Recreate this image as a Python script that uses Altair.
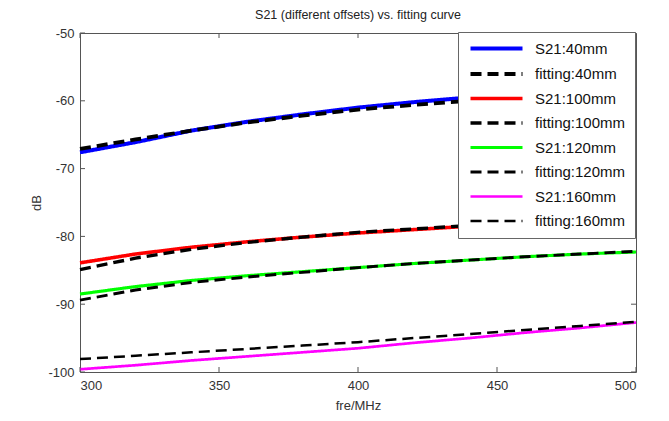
import altair as alt
import pandas as pd

freq = [300, 320, 340, 360, 380, 400, 420, 440, 460, 480, 500]

s21_40 = [-67.6, -66.1, -64.4, -63.1, -62.0, -61.0, -60.2, -59.5, -58.9, -58.4, -57.9]
fit_40 = [-67.1, -65.7, -64.4, -63.2, -62.2, -61.3, -60.6, -60.0, -59.5, -59.0, -58.6]
s21_100 = [-83.9, -82.6, -81.6, -80.8, -80.1, -79.5, -79.0, -78.5, -78.1, -77.7, -77.4]
fit_100 = [-84.9, -83.2, -81.9, -80.9, -80.1, -79.4, -78.9, -78.4, -78.0, -77.6, -77.3]
s21_120 = [-88.5, -87.4, -86.5, -85.8, -85.2, -84.6, -84.0, -83.5, -83.0, -82.6, -82.3]
fit_120 = [-89.4, -87.9, -86.8, -86.0, -85.3, -84.6, -84.0, -83.5, -83.0, -82.6, -82.2]
s21_160 = [-99.6, -99.0, -98.3, -97.7, -97.1, -96.5, -95.7, -95.0, -94.2, -93.5, -92.7]
fit_160 = [-98.1, -97.6, -97.1, -96.6, -96.1, -95.6, -95.0, -94.4, -93.8, -93.2, -92.6]

series_names = ["S21:40mm", "fitting:40mm", "S21:100mm", "fitting:100mm",
                "S21:120mm", "fitting:120mm", "S21:160mm", "fitting:160mm"]
series_values = [s21_40, fit_40, s21_100, fit_100, s21_120, fit_120, s21_160, fit_160]
series_colors = ["#0000FF", "#000000", "#FF0000", "#000000",
                 "#00FF00", "#000000", "#FF00FF", "#000000"]

x_ticks = [300, 350, 400, 450, 500]
y_ticks = [-100, -90, -80, -70, -60, -50]

rows = []
for name, vals in zip(series_names, series_values):
    for f, v in zip(freq, vals):
        rows.append({"freq": f, "dB": v, "series": name,
                     "kind": "fit" if name.startswith("fitting") else "s21"})
df = pd.DataFrame(rows)

W, H = 556, 339

dash_range = [[1, 0] if not n.startswith("fitting") else [11, 6] for n in series_names]
width_range = [4 if not n.startswith("fitting") else 2.5 for n in series_names]

xs = alt.Scale(domain=[300, 500], nice=False, zero=False)
ys = alt.Scale(domain=[-100, -50], nice=False, zero=False)

color_enc = alt.Color("series:N", scale=alt.Scale(domain=series_names, range=series_colors),
                      sort=series_names,
                      legend=alt.Legend(title=None, orient="none", legendX=378, legendY=-1,
                                        fillColor="white", strokeColor="#666666", padding=9,
                                        labelFontSize=15, labelFont="Liberation Sans",
                                        labelColor="#111111", symbolSize=100,
                                        symbolType="M-5.2,0H5.2", symbolOffset=22,
                                        labelOffset=31, rowPadding=8.5,
                                        cornerRadius=0))
dash_enc = alt.StrokeDash("series:N", scale=alt.Scale(domain=series_names, range=dash_range),
                          sort=series_names, legend=None)
sw_enc = alt.StrokeWidth("series:N", scale=alt.Scale(domain=series_names, range=width_range),
                         sort=series_names, legend=None)

x_enc = alt.X("freq:Q", scale=xs,
              axis=alt.Axis(title="fre/MHz", values=x_ticks, grid=False, domain=False,
                            ticks=False, labelPadding=7, titlePadding=7,
                            labelExpr="'' + datum.value"))
y_enc = alt.Y("dB:Q", scale=ys,
              axis=alt.Axis(title="dB", values=y_ticks, grid=False, domain=False,
                            ticks=False, labelPadding=6, titlePadding=4,
                            labelExpr="'' + datum.value"))

solid = alt.Chart(df).transform_filter("datum.kind == 's21'").mark_line(
    strokeCap="butt").encode(x=x_enc, y=y_enc, color=color_enc,
                             strokeDash=dash_enc, strokeWidth=sw_enc, order="freq:Q")
fits = alt.Chart(df).transform_filter("datum.kind == 'fit'").mark_line(
    strokeCap="butt").encode(x=x_enc, y=y_enc, color=color_enc,
                             strokeDash=dash_enc, strokeWidth=sw_enc, order="freq:Q")

xt = pd.DataFrame({"t": x_ticks})
yt = pd.DataFrame({"t": y_ticks})
tick_col = "#555555"
bt = alt.Chart(xt).mark_rule(color=tick_col).encode(
    x=alt.X("t:Q", scale=xs), y=alt.value(H), y2=alt.value(H - 5))
tt = alt.Chart(xt).mark_rule(color=tick_col).encode(
    x=alt.X("t:Q", scale=xs), y=alt.value(0), y2=alt.value(5))
lt = alt.Chart(yt).mark_rule(color=tick_col).encode(
    y=alt.Y("t:Q", scale=ys), x=alt.value(0), x2=alt.value(5))
rt = alt.Chart(yt).mark_rule(color=tick_col).encode(
    y=alt.Y("t:Q", scale=ys), x=alt.value(W), x2=alt.value(W - 5))

chart = alt.layer(solid, fits, bt, tt, lt, rt).resolve_scale(
    color="shared", strokeDash="shared", strokeWidth="shared"
).properties(
    width=W, height=H,
    title=alt.TitleParams("S21 (different offsets) vs. fitting curve", fontSize=12.5,
                          font="Liberation Sans", fontWeight="normal", color="#222222",
                          offset=6, anchor="middle"),
    autosize=alt.AutoSizeParams(type="none"),
    padding={"left": 72, "top": 25, "right": 20, "bottom": 40},
).configure_view(stroke="#555555", strokeWidth=1).configure_axis(
    labelFont="Liberation Sans", titleFont="Liberation Sans", labelFontSize=13,
    titleFontSize=13, titleFontWeight="normal", labelColor="#333333", titleColor="#333333"
)

chart.save("out.html", embed_options={"renderer": "svg", "actions": False})
